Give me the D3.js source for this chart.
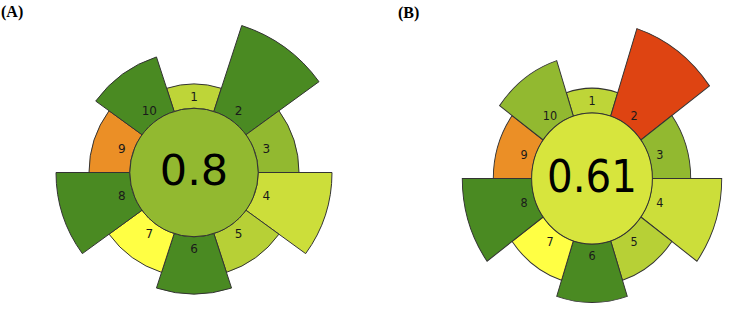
<!DOCTYPE html>
<html>
<head>
<meta charset="utf-8">
<script src="https://cdn.jsdelivr.net/npm/d3@7"></script>
<style>
  body { margin: 0; background: #fff; }
  svg { display: block; }
</style>
</head>
<body>
<svg id="chart" width="730" height="316"></svg>
<script>
// principles 1..10, clockwise from the top
var principles = ["1", "2", "3", "4", "5", "6", "7", "8", "9", "10"];
var weights = [1, 5, 2, 4, 2, 3, 2, 4, 2, 3];
var scoresA = [0.68, 1.0, 0.8, 0.64, 0.7, 1.0, 0.5, 1.0, 0.2, 1.0];
var scoresB = [0.68, 0.0, 0.8, 0.64, 0.7, 1.0, 0.5, 1.0, 0.2, 0.8];
var totals = [0.8, 0.61];
var panelLabels = ["(A)", "(B)"];

var svg = d3.select("#chart");

var innerR = 64.2;
var radius = d3.scaleLinear().domain([1, 5]).range([88.5, 154.5]);
var angle = d3.scaleLinear().domain([0, principles.length]).range([-Math.PI / 10, 2 * Math.PI - Math.PI / 10]);
var color = d3.scaleLinear()
    .domain([0, 0.5, 1])
    .range(["#de4412", "#ffff44", "#4a8a22"])
    .interpolate(d3.interpolateRgb);

var panels = [
    { cx: 194, cy: 172.5, sx: 1, sy: 1, scores: scoresA, total: totals[0], label: panelLabels[0], lx: 1, ly: 17 },
    { cx: 592, cy: 178.5, sx: 0.94, sy: 1.02, scores: scoresB, total: totals[1], label: panelLabels[1], lx: 398, ly: 18 }
];

var arc = d3.arc()
    .innerRadius(innerR)
    .outerRadius(function(d) { return radius(d.w); })
    .startAngle(function(d) { return angle(d.i); })
    .endAngle(function(d) { return angle(d.i + 1); });

panels.forEach(function(p) {
    var g = svg.append("g")
        .attr("transform", "translate(" + p.cx + "," + p.cy + ") scale(" + p.sx + "," + p.sy + ")");

    var segs = principles.map(function(name, i) {
        return { i: i, name: name, w: weights[i], s: p.scores[i] };
    });

    g.selectAll("path.seg").data(segs).enter()
        .append("path")
        .attr("class", "seg")
        .attr("d", arc)
        .attr("fill", function(d) { return color(d.s); })
        .attr("stroke", "#333")
        .attr("stroke-width", 1);

    g.append("circle")
        .attr("r", innerR)
        .attr("fill", color(p.total))
        .attr("stroke", "#333")
        .attr("stroke-width", 1);

    // principle numbers
    g.selectAll("text.num").data(segs).enter()
        .append("text")
        .attr("class", "num")
        .attr("x", function(d) { return 76 * Math.sin(angle(d.i + 0.5)); })
        .attr("y", function(d) { return -76 * Math.cos(angle(d.i + 0.5)); })
        .attr("dy", "0.36em")
        .attr("text-anchor", "middle")
        .attr("font-family", "DejaVu Sans")
        .attr("font-size", 12)
        .attr("fill", "#1a1a1a")
        .text(function(d) { return d.name; });

    g.append("text")
        .attr("x", 0)
        .attr("y", 0)
        .attr("dy", "0.3em")
        .attr("text-anchor", "middle")
        .attr("font-family", "DejaVu Sans")
        .attr("font-size", 43)
        .attr("fill", "#000")
        .text(p.total);

    svg.append("text")
        .attr("x", p.lx)
        .attr("y", p.ly)
        .attr("font-family", "Liberation Serif")
        .attr("font-weight", "bold")
        .attr("font-size", 16)
        .attr("fill", "#000")
        .text(p.label);
});
</script>
</body>
</html>
